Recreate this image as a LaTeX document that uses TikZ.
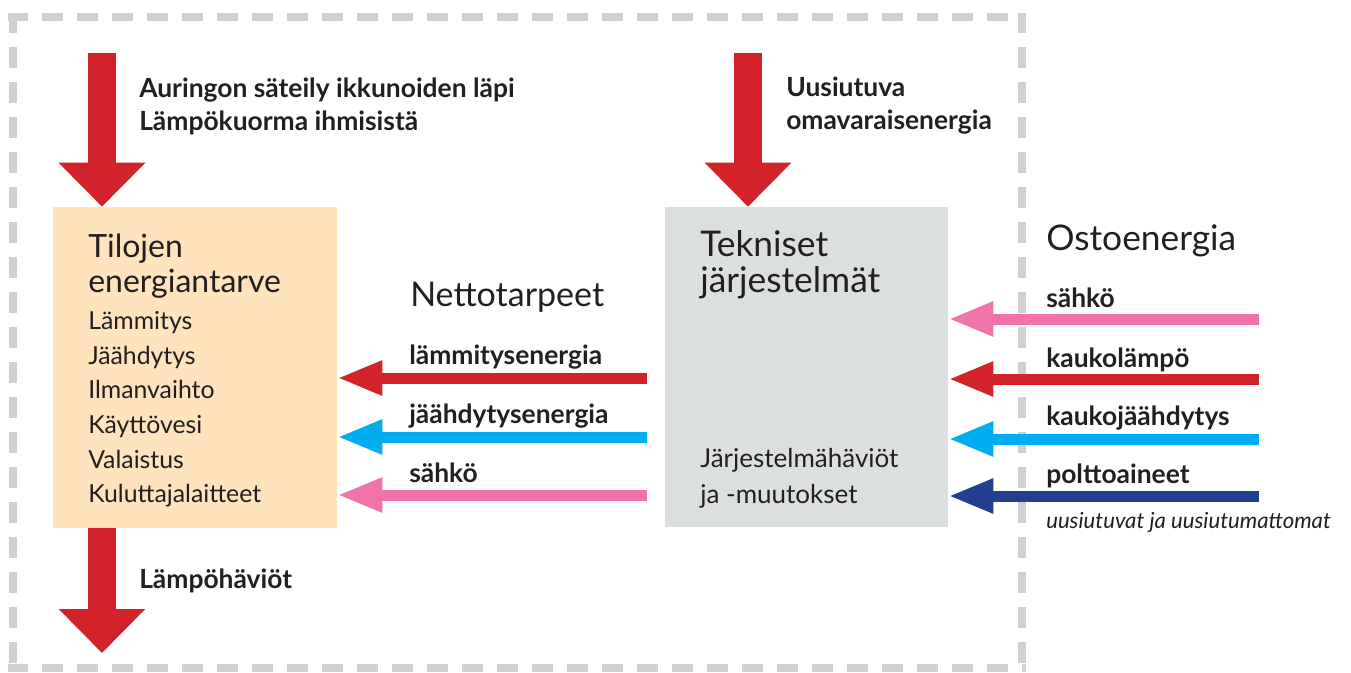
\documentclass[tikz,border=0pt]{standalone}
\usepackage{fontspec}
\setmainfont{Lato}
\usetikzlibrary{arrows.meta}
\definecolor{cred}{HTML}{D2232A}
\definecolor{ccyan}{HTML}{00AEEF}
\definecolor{cpink}{HTML}{F173AC}
\definecolor{cnavy}{HTML}{233F8F}
\definecolor{cpeach}{HTML}{FEE3BC}
\definecolor{cgraybox}{HTML}{DCDFE0}
\definecolor{cdash}{HTML}{CDD1D4}
\definecolor{ctext}{HTML}{231F20}
\tikzset{
  lbl/.style={anchor=base west, inner sep=0pt, text=ctext, font=\bfseries\fontsize{19.8}{22}\selectfont},
  ttl/.style={anchor=base west, inner sep=0pt, text=ctext, font=\fontsize{25.5}{28}\selectfont},
  itm/.style={anchor=base west, inner sep=0pt, text=ctext, font=\fontsize{18.6}{21}\selectfont},
  note/.style={anchor=base west, inner sep=0pt, text=ctext, font=\itshape\fontsize{16.6}{19}\selectfont},
  boxa/.style={draw=none, fill=cpeach, inner sep=0pt, minimum width=213pt, minimum height=240.75pt},
  boxb/.style={draw=none, fill=cgraybox, inner sep=0pt, minimum width=212.25pt, minimum height=240pt},
  bigarrow/.style={draw=cred, line width=21pt, -{Triangle[length=33pt, width=63pt, fill=cred]}},
  flowarrow/.style={line width=8.25pt},
  border/.style={draw=cdash, line width=6pt, dash pattern=on 15.75pt off 10.5pt},
}
\begin{document}
\begin{tikzpicture}[x=0.75pt, y=-0.75pt]
\useasboundingbox (0,0) rectangle (1351,672);
% dashed border
\coordinate (c1) at (8,17);
\coordinate (c2) at (1026,17);
\coordinate (c3) at (12.5,13);
\coordinate (c4) at (1022,13);
\coordinate (c5) at (12.5,672);
\coordinate (c6) at (1022,672);
\coordinate (c7) at (8,668);
\coordinate (c8) at (1026,668);
\draw[border, dash phase=1pt] (c1) -- (c2);
\draw[border, dash phase=1pt] (c3) -- (c5);
\draw[border, dash phase=1pt] (c4) -- (c6);
\draw[border, dash phase=1pt] (c7) -- (c8);
% boxes
\node[boxa] (tilo) at (195,367.5) {};
\node[boxb] (tek) at (806.5,367) {};
% big red arrows
\coordinate (s1) at (102,53);
\coordinate (e1) at (102,653);
\coordinate (s2) at (748,53);
\draw[bigarrow] (s1) -- (s1 |- tilo.north);
\draw[bigarrow] (e1 |- tilo.south) -- (e1);
\draw[bigarrow] (s2) -- (s2 |- tek.north);
% net demand arrows
\coordinate (m1) at (647,378);
\coordinate (m2) at (647,437);
\coordinate (m3) at (647,495);
\draw[flowarrow, draw=cred, -{Triangle[length=33.75pt, width=24pt, fill=cred]}] (m1) -- (m1 -| tilo.east);
\draw[flowarrow, draw=ccyan, -{Triangle[length=33.75pt, width=24pt, fill=ccyan]}] (m2) -- (m2 -| tilo.east);
\draw[flowarrow, draw=cpink, -{Triangle[length=33.75pt, width=24pt, fill=cpink]}] (m3) -- (m3 -| tilo.east);
% purchased energy arrows
\coordinate (r1) at (1259,319);
\coordinate (r2) at (1259,379);
\coordinate (r3) at (1259,439);
\coordinate (r4) at (1259,496);
\draw[flowarrow, draw=cpink, -{Triangle[length=33.75pt, width=24pt, fill=cpink]}] (r1) -- (r1 -| tek.east);
\draw[flowarrow, draw=cred, -{Triangle[length=33.75pt, width=24pt, fill=cred]}] (r2) -- (r2 -| tek.east);
\draw[flowarrow, draw=ccyan, -{Triangle[length=33.75pt, width=24pt, fill=ccyan]}] (r3) -- (r3 -| tek.east);
\draw[flowarrow, draw=cnavy, -{Triangle[length=33.75pt, width=24pt, fill=cnavy]}] (r4) -- (r4 -| tek.east);
% texts
\node[lbl] (t1) at (139,97) {Auringon säteily ikkunoiden läpi};
\node[lbl] (t2) at (139,130) {Lämpökuorma ihmisistä};
\node[lbl] (t3) at (139,588) {Lämpöhäviöt};
\node[lbl] (t4) at (786,96) {Uusiutuva};
\node[lbl] (t5) at (786,129) {omavaraisenergia};
\node[ttl, font=\fontsize{26.5}{30}\selectfont] (o1) at (1046,250) {Ostoenergia};
\node[lbl] (o2) at (1046,307) {sähkö};
\node[lbl] (o3) at (1046,367) {kaukolämpö};
\node[lbl] (o4) at (1046,425) {kaukojäähdytys};
\node[lbl] (o5) at (1046,483) {polttoaineet};
\node[note] (o6) at (1046,528) {uusiutuvat ja uusiutumattomat};
\node[ttl] (n1) at (410,306) {Nettotarpeet};
\node[lbl] (n2) at (409,364) {lämmitysenergia};
\node[lbl] (n3) at (409,423) {jäähdytysenergia};
\node[lbl] (n4) at (409,482) {sähkö};
\node[ttl, font=\fontsize{26.5}{30}\selectfont] (k1) at (700,256) {Tekniset};
\node[ttl, font=\fontsize{26.5}{30}\selectfont] (k2) at (700,292) {järjestelmät};
\node[itm, font=\fontsize{19.5}{22}\selectfont] (k3) at (700,467) {Järjestelmähäviöt};
\node[itm, font=\fontsize{19.5}{22}\selectfont] (k4) at (700,503) {ja -muutokset};
\node[ttl, font=\fontsize{24}{28}\selectfont] (a1) at (88,257) {Tilojen};
\node[ttl, font=\fontsize{24}{28}\selectfont] (a2) at (88,292) {energiantarve};
\node[itm] (a3) at (88,329) {Lämmitys};
\node[itm] (a4) at (88,364) {Jäähdytys};
\node[itm] (a5) at (88,398) {Ilmanvaihto};
\node[itm] (a6) at (88,433) {Käyttövesi};
\node[itm] (a7) at (88,468) {Valaistus};
\node[itm] (a8) at (88,502) {Kuluttajalaitteet};
\end{tikzpicture}
\end{document}
